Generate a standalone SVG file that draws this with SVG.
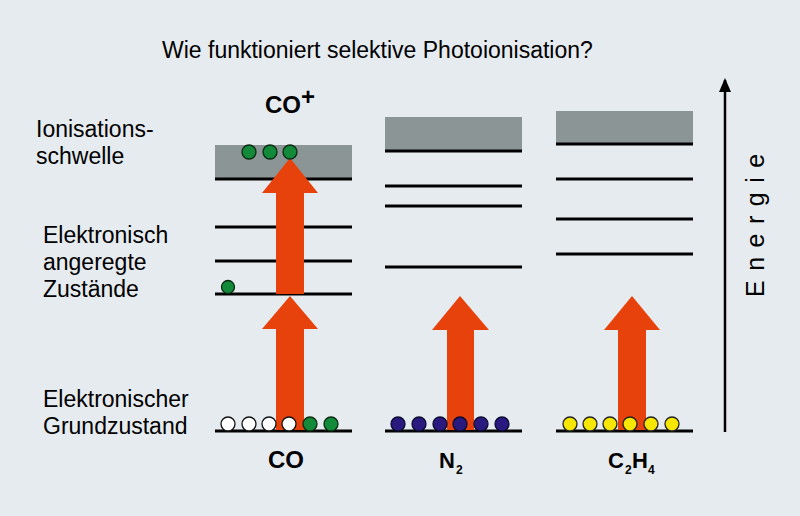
<svg xmlns="http://www.w3.org/2000/svg" width="800" height="516" viewBox="0 0 800 516">
<defs>
<style>
.t{font-family:"Liberation Sans",Arial,sans-serif;fill:#000}
.lbl{font-size:23px}
.mol{font-size:24px;font-weight:bold}
.mol2{font-size:22px;font-weight:bold}
.sub{font-size:12px;font-weight:bold}
.lvl{stroke:#000;stroke-width:3}
.band{fill:#8c9595}
.arr{fill:#e8420c}
.g{fill:#138a3a;stroke:#0a2a10;stroke-width:1.3}
.w{fill:#fff;stroke:#111;stroke-width:1.3}
.b{fill:#2a1a80;stroke:#0a0a30;stroke-width:1.3}
.y{fill:#f6e600;stroke:#222;stroke-width:1.3}
</style>
<marker id="ah" viewBox="0 0 14 12" refX="12" refY="6" markerWidth="14" markerHeight="12" markerUnits="userSpaceOnUse" orient="auto">
<path d="M0,0 L14,6 L0,12 Z" fill="#000"/>
</marker>
</defs>
<rect width="800" height="516" fill="#e6ebef"/>
<text class="t" x="162" y="58" style="font-size:23px">Wie funktioniert selektive Photoionisation?</text>
<g id="labels">
<text class="t lbl" x="36" y="137">Ionisations-</text>
<text class="t lbl" x="36" y="164">schwelle</text>
<text class="t lbl" x="43" y="243">Elektronisch</text>
<text class="t lbl" x="43" y="270">angeregte</text>
<text class="t lbl" x="43" y="297">Zustände</text>
<text class="t lbl" x="43" y="407">Elektronischer</text>
<text class="t lbl" x="43" y="434">Grundzustand</text>
</g>
<g id="co">
<rect class="band" x="215" y="145" width="137" height="34"/>
<line class="lvl" x1="215" y1="179" x2="352" y2="179"/>
<line class="lvl" x1="215" y1="227" x2="352" y2="227"/>
<line class="lvl" x1="215" y1="261" x2="352" y2="261"/>
<line class="lvl" x1="215" y1="294" x2="352" y2="294"/>
<line class="lvl" x1="215" y1="431" x2="352" y2="431"/>
<text class="t mol" x="265" y="113">CO<tspan dy="-8">+</tspan></text>
<text class="t mol" x="268" y="468">CO</text>
</g>
<g id="n2">
<rect class="band" x="385" y="117" width="137" height="34"/>
<line class="lvl" x1="385" y1="151" x2="522" y2="151"/>
<line class="lvl" x1="385" y1="186" x2="522" y2="186"/>
<line class="lvl" x1="385" y1="206" x2="522" y2="206"/>
<line class="lvl" x1="385" y1="267" x2="522" y2="267"/>
<line class="lvl" x1="385" y1="431" x2="522" y2="431"/>
<text class="t mol2" x="439" y="468">N<tspan class="sub" x="456" y="474">2</tspan></text>
</g>
<g id="c2h4">
<rect class="band" x="556" y="111" width="137" height="33"/>
<line class="lvl" x1="556" y1="144" x2="693" y2="144"/>
<line class="lvl" x1="556" y1="179" x2="693" y2="179"/>
<line class="lvl" x1="556" y1="219" x2="693" y2="219"/>
<line class="lvl" x1="556" y1="254" x2="693" y2="254"/>
<line class="lvl" x1="556" y1="431" x2="693" y2="431"/>
<text class="t mol2" x="608" y="468">C<tspan class="sub" x="625" y="474">2</tspan><tspan x="632" y="468">H</tspan><tspan class="sub" x="648" y="474">4</tspan></text>
</g>
<g id="connectors">
<polygon class="arr" points="276,294 276,193 262,193 290,158 318,193 304,193 304,294"/>
<polygon class="arr" points="276,430 276,329 262,329 290,296 318,329 304,329 304,430"/>
<polygon class="arr" points="447,430 447,330 432,330 460,296 489,330 474,330 474,430"/>
<polygon class="arr" points="618,430 618,330 604,330 632,296 660,330 646,330 646,430"/>
<line x1="725" y1="432" x2="725" y2="80" stroke="#000" stroke-width="2.5" marker-end="url(#ah)"/>
</g>
<g id="electrons">
<circle class="g" cx="249" cy="152" r="7"/>
<circle class="g" cx="270" cy="152" r="7"/>
<circle class="g" cx="290" cy="152" r="7"/>
<circle class="g" cx="228" cy="287" r="6.5"/>
<circle class="w" cx="228" cy="424" r="7"/>
<circle class="w" cx="249" cy="424" r="7"/>
<circle class="w" cx="269" cy="424" r="7"/>
<circle class="w" cx="289" cy="424" r="7"/>
<circle class="g" cx="310" cy="424" r="7"/>
<circle class="g" cx="331" cy="424" r="7"/>
<circle class="b" cx="398" cy="424" r="7"/>
<circle class="b" cx="419" cy="424" r="7"/>
<circle class="b" cx="440" cy="424" r="7"/>
<circle class="b" cx="460" cy="424" r="7"/>
<circle class="b" cx="481" cy="424" r="7"/>
<circle class="b" cx="502" cy="424" r="7"/>
<circle class="y" cx="570" cy="424" r="7"/>
<circle class="y" cx="590" cy="424" r="7"/>
<circle class="y" cx="610" cy="424" r="7"/>
<circle class="y" cx="630" cy="424" r="7"/>
<circle class="y" cx="651" cy="424" r="7"/>
<circle class="y" cx="672" cy="424" r="7"/>
</g>
<text class="t" transform="translate(764,297) rotate(-90)" style="font-size:25px;letter-spacing:9.5px">Energie</text>
</svg>
